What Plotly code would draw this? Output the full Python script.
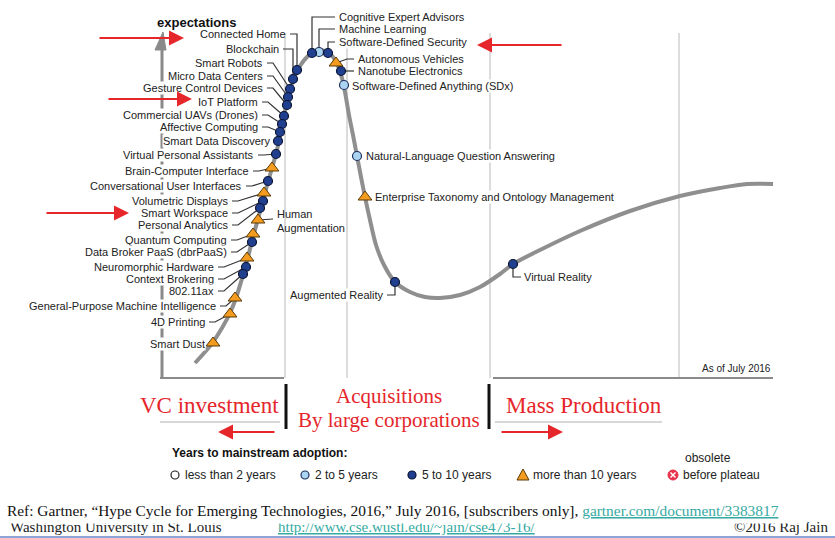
import plotly.graph_objects as go

W, H = 835, 538
X0, Y0 = 162, 377  # chart origin (pixels) – time axis / expectations axis


def dx(px):
    return px - X0


def dy(py):
    return Y0 - py


# ---------------- data ----------------
curve_time = [33, 43, 51, 60, 68, 74, 81, 86, 91, 96, 101, 106, 110, 115, 119, 123, 127, 132,
              138, 145, 152, 158, 165, 171, 176, 180, 183, 187, 191, 195, 199, 203, 208, 214,
              222, 233, 248, 263, 278, 298, 318, 338, 351, 378, 418, 468, 518, 558, 585, 611]
curve_expect = [14, 25, 35, 49, 64, 79, 102, 120, 140, 158, 177, 195, 209, 227, 247, 266, 284, 299,
                311, 320, 325, 327, 325, 320, 311, 299, 285, 262, 242, 221, 200, 180, 157, 132,
                112, 95, 85, 80, 79, 82, 90, 103, 113, 127, 146, 166, 181, 189, 193, 193]

tech_names = [
    "Connected Home", "Blockchain", "Smart Robots", "Micro Data Centers",
    "Gesture Control Devices", "IoT Platform", "Commercial UAVs (Drones)",
    "Affective Computing", "Smart Data Discovery", "Virtual Personal Assistants",
    "Brain-Computer Interface", "Conversational User Interfaces", "Volumetric Displays",
    "Smart Workspace", "Personal Analytics", "Human<br>Augmentation", "Quantum Computing",
    "Data Broker PaaS (dbrPaaS)", "Neuromorphic Hardware", "Context Brokering", "802.11ax",
    "General-Purpose Machine Intelligence", "4D Printing", "Smart Dust",
    "Cognitive Expert Advisors", "Machine Learning", "Software-Defined Security",
    "Autonomous Vehicles", "Nanotube Electronics", "Software-Defined Anything (SDx)",
    "Natural-Language Question Answering", "Enterprise Taxonomy and Ontology Management",
    "Augmented Reality", "Virtual Reality",
]
tech_time = [135, 131, 128, 126, 125, 122, 120, 118, 116, 114, 110, 106, 102, 101, 98, 96, 91,
             90, 85, 84, 81, 73, 68, 51, 150, 157, 166, 174, 179, 182, 195, 203, 233, 351]
tech_expect = [307, 298, 288, 280, 272, 261, 253, 245, 236, 223, 209, 196, 184, 176, 169, 157,
               143, 135, 119, 110, 103, 79, 63, 34, 324, 325, 324, 314, 306, 292, 221, 180, 95, 113]
tech_years = ["5-10", "5-10", "5-10", "5-10", "5-10", "5-10", "5-10", "5-10", "5-10", "5-10",
              ">10", "5-10", ">10", "5-10", "5-10", ">10", ">10", "5-10", ">10", "5-10", "5-10",
              ">10", ">10", ">10", "5-10", "2-5", "5-10", ">10", "5-10", "2-5", "2-5", ">10",
              "5-10", "5-10"]

legend_title = "Years to mainstream adoption:"
legend_labels = ["less than 2 years", "2 to 5 years", "5 to 10 years", "more than 10 years",
                 "before plateau"]

# ---------------- layout helpers (label anchors in pixels) ----------------
label_pos = {
    "Connected Home": (287, 34, "LE"),
    "Blockchain": (280, 49, "LE"),
    "Smart Robots": (264, 63, "L"),
    "Micro Data Centers": (264, 76, "L"),
    "Gesture Control Devices": (264, 88, "L"),
    "IoT Platform": (259, 102, "L"),
    "Commercial UAVs (Drones)": (259, 115, "L"),
    "Affective Computing": (259, 127, "L"),
    "Smart Data Discovery": (271, 141, "LN"),
    "Virtual Personal Assistants": (255, 155, "L"),
    "Brain-Computer Interface": (250, 171, "L"),
    "Conversational User Interfaces": (243, 186, "L"),
    "Volumetric Displays": (229, 201, "L"),
    "Smart Workspace": (229, 213, "L"),
    "Personal Analytics": (229, 225, "L"),
    "Human<br>Augmentation": (276, 221, "RH"),
    "Quantum Computing": (228, 240, "L"),
    "Data Broker PaaS (dbrPaaS)": (228, 252, "L"),
    "Neuromorphic Hardware": (215, 267, "L"),
    "Context Brokering": (215, 279, "L"),
    "802.11ax": (215, 291, "L"),
    "General-Purpose Machine Intelligence": (217, 306, "L"),
    "4D Printing": (206, 322, "L"),
    "Smart Dust": (206, 344, "LN"),
    "Cognitive Expert Advisors": (338, 17, "RT"),
    "Machine Learning": (338, 29, "RT"),
    "Software-Defined Security": (338, 42, "RT"),
    "Autonomous Vehicles": (357, 59, "R"),
    "Nanotube Electronics": (357, 71, "R"),
    "Software-Defined Anything (SDx)": (351, 86, "RN"),
    "Natural-Language Question Answering": (365, 156, "RN"),
    "Enterprise Taxonomy and Ontology Management": (374, 197, "RN"),
    "Augmented Reality": (384, 295, "AR"),
    "Virtual Reality": (523, 277, "VR"),
}

SANS = "Arial, Liberation Sans, Helvetica, sans-serif"
SERIF = "Times New Roman, Liberation Serif, serif"
RED = "#e5262b"
TEAL = "#35aaa3"

styles = {
    "<2": dict(symbol="circle", size=9, color="white", line=dict(color="#222", width=1.2)),
    "2-5": dict(symbol="circle", size=9, color="#aad4f2", line=dict(color="#1d2f5c", width=1.2)),
    "5-10": dict(symbol="circle", size=9, color="#213f8f", line=dict(color="#0b1533", width=1.2)),
    ">10": dict(symbol="triangle-up", size=12, color="#f39c1f", line=dict(color="#5b3a06", width=1)),
}

fig = go.Figure()

# hype curve
fig.add_trace(go.Scatter(x=curve_time, y=curve_expect, mode="lines",
                         line=dict(color="#8f8f8f", width=4, shape="spline", smoothing=0.8),
                         hoverinfo="skip", showlegend=False))

# leaders
lx_all, ly_all = [], []
for name, t, e in zip(tech_names, tech_time, tech_expect):
    lx, ly, kind = label_pos[name]
    ax, ay = dx(lx), dy(ly)
    pts = []
    if kind == "L":
        pts = [(ax + 3, ay), (ax + 9, ay), (t, e)]
    elif kind == "LE":
        pts = [(ax + 3, ay), (t, ay), (t, e)]
    elif kind == "RT":
        pts = [(t, e), (t, ay), (ax - 3, ay)]
    elif kind == "R":
        pts = [(t, e), (ax - 10, ay), (ax - 3, ay)]
    elif kind == "RH":
        pts = [(t, e), (ax - 3, e + 1)]
    elif kind == "AR":
        pts = [(ax + 3, ay), (t, ay), (t, e)]
    elif kind == "VR":
        pts = [(t, e), (t, ay), (ax - 2, ay)]
    for p in pts:
        lx_all.append(p[0])
        ly_all.append(p[1])
    lx_all.append(None)
    ly_all.append(None)
fig.add_trace(go.Scatter(x=lx_all, y=ly_all, mode="lines", line=dict(color="#333", width=1.2),
                         hoverinfo="skip", showlegend=False))

# technology markers
for cat in ["2-5", "5-10", ">10"]:
    idx = [i for i, c in enumerate(tech_years) if c == cat]
    st = styles[cat]
    fig.add_trace(go.Scatter(
        x=[tech_time[i] for i in idx], y=[tech_expect[i] for i in idx], mode="markers",
        marker=dict(symbol=st["symbol"], size=st["size"], color=st["color"], line=st["line"]),
        text=[tech_names[i] for i in idx], hoverinfo="text", showlegend=False))

shapes = []
annotations = []

# grid lines
for gx in [285, 347, 490, 679]:
    shapes.append(dict(type="line", x0=dx(gx), x1=dx(gx), y0=dy(33), y1=dy(378),
                       line=dict(color="#d4d4d4", width=1.6), layer="below"))
# bottom axis line (two segments)
for a, b in [(160, 284), (493, 773)]:
    shapes.append(dict(type="line", x0=dx(a), x1=dx(b), y0=dy(378), y1=dy(378),
                       line=dict(color="#8a8a8a", width=2), layer="below"))
# y axis with arrowhead
shapes.append(dict(type="line", x0=dx(162), x1=dx(162), y0=dy(378), y1=dy(46),
                   line=dict(color="#8a8a8a", width=3), layer="below"))
shapes.append(dict(type="path",
                   path=f"M {dx(155)} {dy(50)} L {dx(163)} {dy(32)} L {dx(166)} {dy(50)} Z",
                   fillcolor="#8a8a8a", line=dict(color="#8a8a8a", width=1)))

# labels
for name in tech_names:
    lx, ly, kind = label_pos[name]
    left = kind in ("L", "LE", "LN", "AR")
    annotations.append(dict(x=dx(lx), y=dy(ly), xref="x", yref="y", text=name, showarrow=False,
                            xanchor="right" if left else "left", yanchor="middle",
                            align="left", font=dict(family=SANS, size=11, color="#222"),
                            bgcolor="white" if kind not in ("RH", "LE") else None, borderpad=0))

annotations.append(dict(x=dx(155), y=dy(22), xref="x", yref="y", text="<b>expectations</b>",
                        showarrow=False, xanchor="left", yanchor="middle",
                        font=dict(family=SANS, size=13, color="#111")))
annotations.append(dict(x=dx(773), y=dy(368), xref="x", yref="y", text="As of July 2016",
                        showarrow=False, xanchor="right", yanchor="middle",
                        font=dict(family=SANS, size=10, color="#222")))

# red overlay texts
annotations.append(dict(x=dx(209), y=dy(405), xref="x", yref="y", text="VC investment",
                        showarrow=False, font=dict(family=SERIF, size=23, color=RED)))
annotations.append(dict(x=dx(389), y=dy(396), xref="x", yref="y", text="Acquisitions",
                        showarrow=False, font=dict(family=SERIF, size=21, color=RED)))
annotations.append(dict(x=dx(389), y=dy(420), xref="x", yref="y", text="By large corporations",
                        showarrow=False, font=dict(family=SERIF, size=21, color=RED)))
annotations.append(dict(x=dx(584), y=dy(405), xref="x", yref="y", text="Mass Production",
                        showarrow=False, font=dict(family=SERIF, size=23, color=RED)))
for bx in [286, 489]:
    shapes.append(dict(type="line", x0=dx(bx), x1=dx(bx), y0=dy(384), y1=dy(429),
                       line=dict(color="#111", width=3)))
for a, b in [(160, 280), (495, 662)]:
    shapes.append(dict(type="line", x0=dx(a), x1=dx(b), y0=dy(422), y1=dy(422),
                       line=dict(color="#b0b0b0", width=1)))

# red arrows
for (x_tail, x_tip, yy) in [(98, 184, 38), (107, 192, 99), (45, 129, 213), (563, 477, 45),
                            (276, 218, 432), (500, 563, 432)]:
    annotations.append(dict(x=dx(x_tip), y=dy(yy), ax=dx(x_tail), ay=dy(yy), xref="x", yref="y",
                            axref="x", ayref="y", text="", showarrow=True, arrowhead=2,
                            arrowsize=1.5, arrowwidth=2, arrowcolor=RED))

# legend
annotations.append(dict(x=dx(170), y=dy(453), xref="x", yref="y", text=f"<b>{legend_title}</b>",
                        showarrow=False, xanchor="left", yanchor="middle",
                        font=dict(family=SANS, size=12, color="#111")))
leg_x = [175, 305, 412, 523, 673]
leg_cats = ["<2", "2-5", "5-10", ">10", "obs"]
for lxp, lab, cat in zip(leg_x, legend_labels, leg_cats):
    cy = 475
    if cat == ">10":
        shapes.append(dict(type="path",
                           path=f"M {dx(lxp-6)} {dy(cy+5)} L {dx(lxp)} {dy(cy-6)} L {dx(lxp+6)} {dy(cy+5)} Z",
                           fillcolor=styles[cat]["color"], line=dict(color="#5b3a06", width=1)))
    elif cat == "obs":
        shapes.append(dict(type="circle", x0=dx(lxp-5), x1=dx(lxp+5), y0=dy(cy+5), y1=dy(cy-5),
                           fillcolor="#e8324a", line=dict(color="#e8324a", width=1)))
        for sgn in (1, -1):
            shapes.append(dict(type="line", x0=dx(lxp-2.5), x1=dx(lxp+2.5),
                               y0=dy(cy-2.5*sgn), y1=dy(cy+2.5*sgn),
                               line=dict(color="white", width=1.5)))
    else:
        st = styles[cat]
        shapes.append(dict(type="circle", x0=dx(lxp-4), x1=dx(lxp+4), y0=dy(cy+4), y1=dy(cy-4),
                           fillcolor=st["color"], line=dict(color=st["line"]["color"], width=1.2)))
    annotations.append(dict(x=dx(lxp + 8), y=dy(cy), xref="x", yref="y", text=lab,
                            showarrow=False, xanchor="left", yanchor="middle",
                            font=dict(family=SANS, size=12, color="#222")))
annotations.append(dict(x=dx(683), y=dy(458), xref="x", yref="y", text="obsolete",
                        showarrow=False, xanchor="left", yanchor="middle",
                        font=dict(family=SANS, size=12, color="#222")))

# footer (second line first, so the Ref line's white box clips its top like the slide)
annotations.append(dict(x=dx(8), y=dy(527), xref="x", yref="y", showarrow=False,
                        xanchor="left", yanchor="middle", text="Washington University in St. Louis",
                        font=dict(family=SERIF, size=15, color="#222")))
annotations.append(dict(x=dx(276), y=dy(527), xref="x", yref="y", showarrow=False,
                        xanchor="left", yanchor="middle",
                        text="<u>http://www.cse.wustl.edu/~jain/cse473-16/</u>",
                        font=dict(family=SERIF, size=15, color=TEAL)))
annotations.append(dict(x=dx(830), y=dy(527), xref="x", yref="y", showarrow=False,
                        xanchor="right", yanchor="middle", text="\u00a92016 Raj Jain",
                        font=dict(family=SERIF, size=15, color="#222")))
annotations.append(dict(
    x=dx(6), y=dy(497), xref="x", yref="y", showarrow=False, xanchor="left", yanchor="top",
    height=25, width=800, align="left", valign="middle", bgcolor="white", borderpad=0,
    text=("Ref: Gartner, \u201cHype Cycle for Emerging Technologies, 2016,\u201d July 2016, "
          "[subscribers only], "
          f"<span style='color:{TEAL}'><u>gartner.com/document/3383817</u></span>"),
    font=dict(family=SERIF, size=15.4, color="#111")))
shapes.append(dict(type="line", x0=dx(0), x1=dx(835), y0=dy(537), y1=dy(537),
                   line=dict(color="#8ea3d6", width=2)))

fig.update_layout(
    width=W, height=H, margin=dict(l=0, r=0, t=0, b=0),
    paper_bgcolor="white", plot_bgcolor="white",
    xaxis=dict(range=[dx(0), dx(W)], visible=False, fixedrange=True),
    yaxis=dict(range=[dy(H), dy(0)], visible=False, fixedrange=True),
    shapes=shapes, annotations=annotations, showlegend=False,
)

fig.write_html("out.html", config={"displayModeBar": False},
               post_script="document.body.style.margin='0';document.body.style.overflow='hidden';")
